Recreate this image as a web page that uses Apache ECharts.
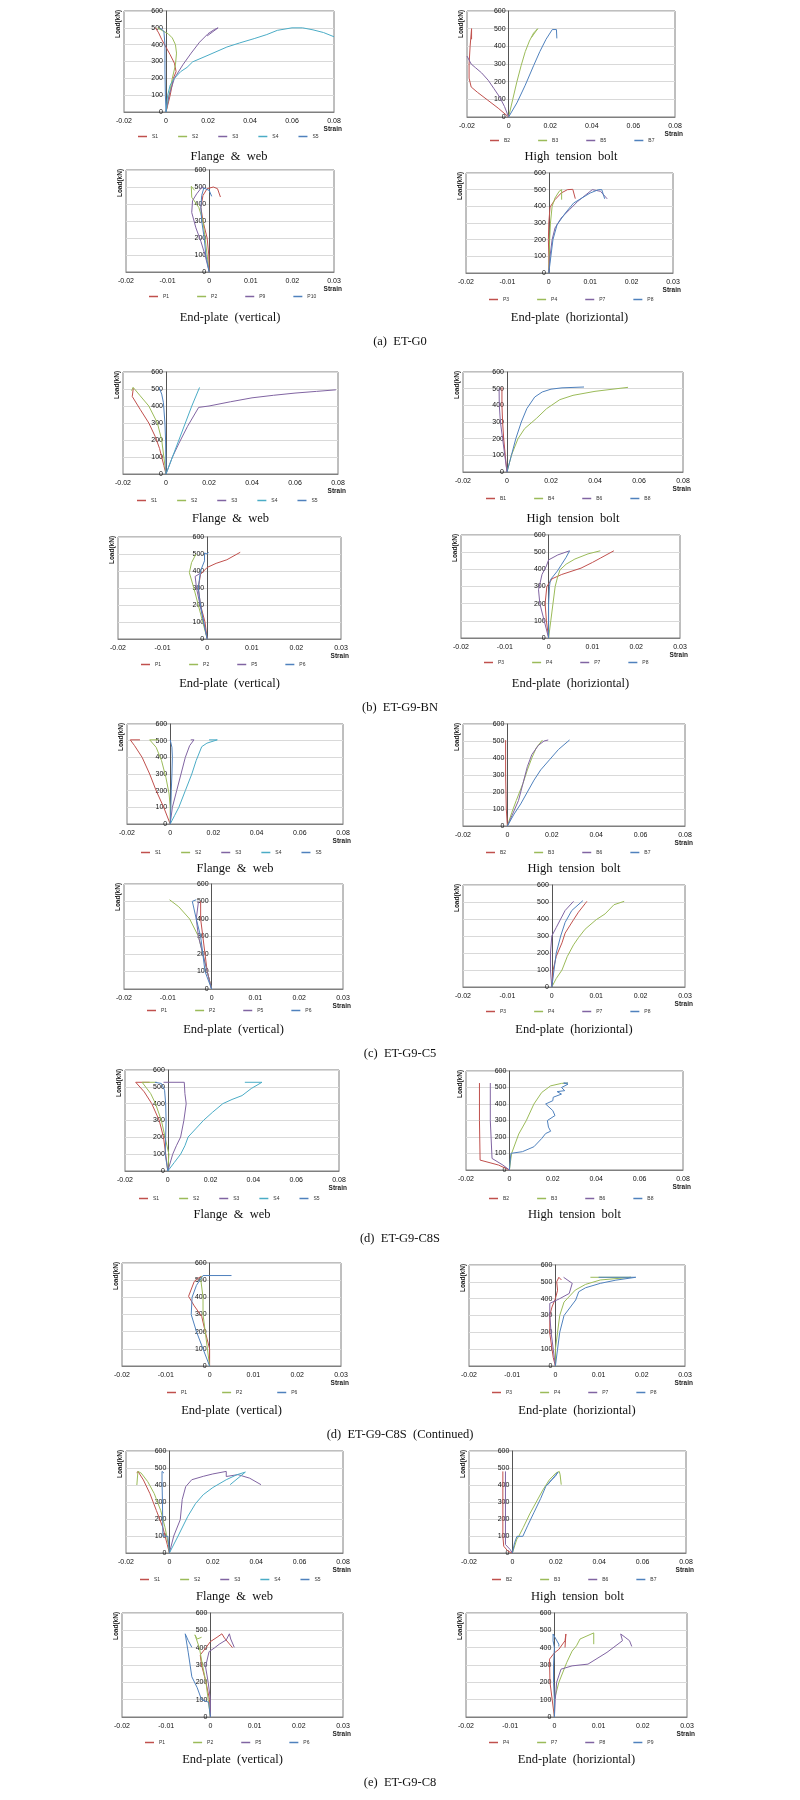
<!DOCTYPE html>
<html>
<head>
<meta charset="utf-8">
<script src="https://cdn.jsdelivr.net/npm/echarts@6/dist/echarts.min.js"></script>
<style>
html, body { margin: 0; padding: 0; background: #fff; }
#main { width: 800px; height: 1800px; }
</style>
</head>
<body>
<div id="main"></div>
<script>
// axis ranges [min, max, interval]
var fwRange = [-0.02, 0.08, 0.02];
var epRange = [-0.02, 0.03, 0.01];
var loadRange = [0, 600, 100];

// ---------- (a) ET-G0 ----------
var aFW_names = ['S1', 'S2', 'S3', 'S4', 'S5'];
var aFW_data = [
    [[0,0],[0.002,100],[0.0035,200],[0.0048,240],[0.004,290],[0.002,340],[0,385],[-0.002,430],[-0.0035,470],[-0.005,500]],
    [[0,0],[0.0015,100],[0.003,200],[0.0045,280],[0.005,350],[0.0045,400],[0.003,440],[0.001,465],[-0.002,485],[-0.004,500]],
    [[0,0],[0.0015,100],[0.004,200],[0.008,280],[0.012,350],[0.016,415],[0.02,465],[0.023,490],[0.0248,500],[0.0196,452]],
    [[0,0],[0.0008,100],[0.002,160],[0.004,200],[0.007,240],[0.01,265],[0.0127,298],[0.02,337],[0.029,386],[0.035,410],[0.042,436],[0.048,460],[0.053,485],[0.06,500],[0.065,500],[0.07,488],[0.075,472],[0.08,447]],
    [[0,0],[-0.0003,100],[-0.0005,250],[-0.0005,400],[-0.001,480],[-0.003,500]]
];
var aBT_names = ['B2', 'B3', 'B5', 'B7'];
var aBT_data = [
    [[0,0],[-0.005,50],[-0.01,95],[-0.015,140],[-0.018,170],[-0.019,220],[-0.019,300],[-0.0185,400],[-0.0178,500],[-0.0178,440]],
    [[0,0],[0.002,100],[0.004,200],[0.006,290],[0.008,370],[0.01,430],[0.012,475],[0.014,500],[0.011,450]],
    [[0,0],[-0.002,60],[-0.0043,113],[-0.007,160],[-0.0098,208],[-0.013,250],[-0.016,280],[-0.018,300],[-0.02,345]],
    [[0,0],[0.004,80],[0.008,180],[0.012,290],[0.015,370],[0.018,440],[0.021,495],[0.023,495],[0.0232,445]]
];
var aEV_names = ['P1', 'P2', 'P9', 'P10'];
var aEV_data = [
    [[0,0],[-0.0001,100],[-0.0005,200],[-0.0015,300],[-0.002,380],[-0.0015,450],[-0.0005,490],[0.001,500],[0.002,490],[0.0027,441]],
    [[0,0],[-0.0005,100],[-0.001,200],[-0.0015,300],[-0.0025,380],[-0.0042,440],[-0.0043,504],[-0.0035,480]],
    [[0,0],[-0.001,100],[-0.002,180],[-0.0032,260],[-0.0042,350],[-0.004,420],[-0.003,460],[-0.0018,498],[-0.001,490]],
    [[0,0],[-0.0008,100],[-0.0012,200],[-0.0018,300],[-0.002,380],[-0.0018,450],[-0.0013,494],[0,480],[0.0006,445]]
];
var aEH_names = ['P3', 'P4', 'P7', 'P8'];
var aEH_data = [
    [[0,0],[0,100],[-0.0001,200],[0,300],[0.0003,396],[0.0015,440],[0.003,480],[0.0045,500],[0.0058,502],[0.0064,446]],
    [[0,0],[0.0001,100],[0.0002,200],[0.0004,300],[0.0008,400],[0.0015,450],[0.0025,490],[0.0031,500],[0.0031,440]],
    [[0,0],[0.0003,100],[0.0008,200],[0.0015,270],[0.003,330],[0.005,380],[0.007,430],[0.009,470],[0.0105,500],[0.0125,490],[0.0141,445]],
    [[0,0],[0.0005,100],[0.001,200],[0.002,290],[0.004,360],[0.006,420],[0.008,450],[0.01,480],[0.012,500],[0.0128,500],[0.0135,445]]
];

// ---------- (b) ET-G9-BN ----------
var bFW_names = ['S1', 'S2', 'S3', 'S4', 'S5'];
var bFW_data = [
    [[0,0],[-0.001,50],[-0.003,150],[-0.005,220],[-0.008,300],[-0.012,380],[-0.0157,456],[-0.0152,505]],
    [[0,0],[-0.001,100],[-0.002,200],[-0.004,300],[-0.008,400],[-0.012,460],[-0.0153,510],[-0.016,490]],
    [[0,0],[0.003,100],[0.006,180],[0.01,280],[0.0152,392],[0.02,400],[0.03,425],[0.04,448],[0.05,463],[0.06,476],[0.07,486],[0.079,495]],
    [[0,0],[0.003,100],[0.006,200],[0.009,300],[0.012,400],[0.0156,509]],
    [[0,0],[-0.0002,200],[-0.0005,300],[-0.0012,420],[-0.002,470],[-0.0032,509]]
];
var bBT_names = ['B1', 'B4', 'B6', 'B8'];
var bBT_data = [
    [[0,0],[-0.0008,100],[-0.0015,200],[-0.002,300],[-0.0023,400],[-0.0023,508]],
    [[0,0],[0.002,100],[0.005,200],[0.008,260],[0.0135,323],[0.018,380],[0.024,434],[0.03,460],[0.04,484],[0.05,500],[0.055,508]],
    [[0,0],[-0.001,100],[-0.002,200],[-0.003,300],[-0.0035,400],[-0.0036,500]],
    [[0,0],[0.002,100],[0.004,200],[0.0065,300],[0.009,380],[0.0126,450],[0.016,480],[0.02,497],[0.025,505],[0.035,510]]
];
var bEV_names = ['P1', 'P2', 'P5', 'P6'];
var bEV_data = [
    [[0,0],[-0.0005,100],[-0.0015,200],[-0.002,300],[-0.0015,380],[0,421],[0.002,445],[0.0044,466],[0.0074,510]],
    [[0,0],[-0.001,100],[-0.002,200],[-0.003,300],[-0.004,390],[-0.0035,450],[-0.0025,500]],
    [[0,0],[-0.0008,100],[-0.0016,200],[-0.0024,300],[-0.0027,368],[-0.0015,387]],
    [[0,0],[-0.0008,100],[-0.0015,200],[-0.002,300],[-0.0015,400],[-0.0006,460],[-0.0006,506],[0,500],[0.0003,510]]
];
var bEH_names = ['P3', 'P4', 'P7', 'P8'];
var bEH_data = [
    [[0,0],[-0.0005,100],[-0.0008,200],[-0.0004,300],[0.0008,345],[0.003,370],[0.0074,407],[0.01,440],[0.0118,465],[0.0149,508]],
    [[0,0],[0.0005,100],[0.001,200],[0.0015,300],[0.002,350],[0.0026,397],[0.004,430],[0.006,460],[0.009,490],[0.0118,508]],
    [[0,0],[-0.001,100],[-0.002,200],[-0.0023,281],[-0.0015,370],[-0.0005,420],[0,455],[0.0021,484],[0.0048,508]],
    [[0,0],[0,200],[0.0002,300],[0.0004,339],[0.002,390],[0.003,430],[0.004,470],[0.0048,508]]
];

// ---------- (c) ET-G9-C5 ----------
var cFW_names = ['S1', 'S2', 'S3', 'S4', 'S5'];
var cFW_data = [
    [[0,0],[-0.003,100],[-0.0065,200],[-0.0095,300],[-0.013,400],[-0.0165,470],[-0.0185,505],[-0.014,505]],
    [[0,0],[0,100],[-0.0005,180],[-0.002,280],[-0.004,380],[-0.0065,460],[-0.0095,505],[-0.0055,505]],
    [[0,0],[0.001,100],[0.003,200],[0.005,300],[0.007,400],[0.009,470],[0.011,505],[0.0095,505]],
    [[0,0],[0.002,50],[0.004,100],[0.007,200],[0.01,300],[0.012,380],[0.0146,464],[0.017,485],[0.0218,505],[0.018,505]],
    [[0,0],[0.0003,100],[0.0005,200],[0.0008,300],[0.001,400],[0.0008,460],[0,505]]
];
var cBT_names = ['B2', 'B3', 'B6', 'B7'];
var cBT_data = [
    [[0,0],[-0.0005,100],[-0.0008,300],[-0.0008,505]],
    [[0,0],[0.002,80],[0.004,150],[0.007,250],[0.009,330],[0.011,400],[0.013,460],[0.0158,506]],
    [[0,0],[0.002,60],[0.005,150],[0.007,250],[0.009,350],[0.011,420],[0.014,475],[0.0165,500],[0.0184,506]],
    [[0,0],[0.003,70],[0.006,130],[0.009,200],[0.012,270],[0.015,330],[0.019,390],[0.023,450],[0.028,506]]
];
var cEV_names = ['P1', 'P2', 'P5', 'P6'];
var cEV_data = [
    [[0,0],[-0.0005,50],[-0.001,100],[-0.0015,200],[-0.002,300],[-0.0025,400],[-0.0025,501]],
    [[0,0],[-0.001,100],[-0.002,200],[-0.003,300],[-0.005,400],[-0.0075,470],[-0.0096,510]],
    [[0,0],[-0.001,100],[-0.002,200],[-0.003,300],[-0.0035,400],[-0.003,500]],
    [[0,0],[-0.0015,100],[-0.002,200],[-0.0025,300],[-0.0035,400],[-0.0044,501],[-0.0035,510]]
];
var cEH_names = ['P3', 'P4', 'P7', 'P8'];
var cEH_data = [
    [[0,0],[0.0003,100],[0.001,180],[0.0023,260],[0.003,317],[0.0049,396],[0.006,440],[0.0075,490],[0.0079,504]],
    [[0,0],[0.001,50],[0.0023,100],[0.0035,180],[0.0049,248],[0.006,290],[0.0075,340],[0.01,396],[0.012,430],[0.014,484],[0.0163,504]],
    [[0,0],[-0.0003,100],[-0.0003,200],[0,300],[0.001,350],[0.002,400],[0.003,450],[0.0049,504]],
    [[0,0],[0.0005,100],[0.001,200],[0.002,300],[0.003,380],[0.0045,450],[0.007,508]]
];

// ---------- (d) ET-G9-C8S ----------
var dFW_names = ['S1', 'S2', 'S3', 'S4', 'S5'];
var dFW_data = [
    [[0,0],[-0.001,100],[-0.002,200],[-0.004,300],[-0.0075,400],[-0.011,470],[-0.015,527],[-0.0085,527]],
    [[0,0],[0.0005,100],[-0.0013,202],[-0.003,300],[-0.0058,402],[-0.008,460],[-0.012,527],[-0.005,527]],
    [[0,0],[0.0023,100],[0.004,150],[0.006,202],[0.0075,300],[0.0086,400],[0.008,460],[0.0077,527],[-0.002,527]],
    [[0,0],[0.003,50],[0.006,100],[0.008,150],[0.0095,202],[0.013,250],[0.0167,301],[0.021,350],[0.0257,400],[0.03,425],[0.0347,448],[0.039,490],[0.044,527],[0.036,527]],
    [[0,0],[-0.0012,100],[-0.001,200],[-0.0008,300],[-0.001,400],[-0.0015,480],[-0.003,520],[-0.006,527]]
];
var dBT_names = ['B2', 'B3', 'B6', 'B8'];
var dBT_data = [
    [[0,0],[-0.005,30],[-0.0135,60],[-0.0138,300],[-0.0138,527]],
    [[0,0],[0.001,100],[0.0043,218],[0.0078,300],[0.0113,400],[0.0149,470],[0.019,510],[0.024,525],[0.027,527]],
    [[0,0],[-0.003,30],[-0.008,70],[-0.0088,300],[-0.0088,527]],
    [[0,0],[0.0007,101],[0.006,111],[0.0113,141],[0.0149,191],[0.0167,221],[0.019,235],[0.018,260],[0.0175,300],[0.021,330],[0.02,360],[0.0167,400],[0.02,420],[0.0202,441],[0.024,460],[0.022,475],[0.0255,481],[0.024,500],[0.027,520],[0.025,527],[0.027,527]]
];
var dcEV_names = ['P1', 'P2', 'P6'];
var dcEV_data = [
    [[0,0],[0,100],[-0.001,200],[-0.0018,289],[-0.0035,350],[-0.0048,406],[-0.0035,493],[-0.002,522]],
    [[0,0],[-0.0005,100],[-0.001,200],[-0.0015,300],[-0.0015,400],[-0.002,500],[-0.0018,525]],
    [[0,0],[-0.0015,100],[-0.003,200],[-0.0042,300],[-0.004,400],[-0.003,470],[-0.0015,527],[0.005,527]]
];
var dcEH_names = ['P3', 'P4', 'P7', 'P8'];
var dcEH_data = [
    [[0,0],[-0.0005,50],[-0.0013,193],[-0.0013,300],[-0.0008,350],[0,400],[0.0005,450],[0.0003,500],[0.0008,527],[0.0014,511]],
    [[0,0],[0,100],[0.0005,200],[0.001,300],[0.002,380],[0.0046,451],[0.007,485],[0.0104,511],[0.0175,527],[0.0081,527]],
    [[0,0],[-0.0005,100],[-0.001,200],[-0.0013,300],[-0.0013,372],[0.001,400],[0.0032,431],[0.0039,491],[0.0019,527]],
    [[0,0],[0.0005,100],[0.001,200],[0.002,300],[0.0047,392],[0.0054,441],[0.007,465],[0.0104,491],[0.014,510],[0.0186,527],[0.01,527]]
];

// ---------- (e) ET-G9-C8 ----------
var eFW_names = ['S1', 'S2', 'S3', 'S4', 'S5'];
var eFW_data = [
    [[0,0],[-0.001,50],[-0.003,150],[-0.006,250],[-0.009,350],[-0.012,430],[-0.0145,480],[-0.015,470]],
    [[0,0],[-0.0005,50],[-0.002,150],[-0.004,250],[-0.007,350],[-0.01,420],[-0.013,470],[-0.0145,480],[-0.015,400]],
    [[0,0],[0.002,100],[0.005,196],[0.0059,314],[0.0075,390],[0.0103,431],[0.0156,451],[0.02,465],[0.0262,480],[0.0262,450],[0.0316,461],[0.037,440],[0.0422,402]],
    [[0,0],[0.004,100],[0.0085,216],[0.012,290],[0.0156,343],[0.02,385],[0.0262,431],[0.031,460],[0.035,476],[0.028,402]],
    [[0,0],[-0.0007,98],[-0.003,100],[-0.0032,300],[-0.0034,420],[-0.0034,480],[-0.0025,470]]
];
var eBT_names = ['B2', 'B3', 'B6', 'B7'];
var eBT_data = [
    [[0,0],[-0.002,10],[-0.004,40],[-0.0044,100],[-0.0044,480]],
    [[0,0],[0.002,80],[0.003,100],[0.005,150],[0.008,230],[0.011,300],[0.014,370],[0.017,430],[0.02,470],[0.0216,480],[0.022,460],[0.0225,402]],
    [[0,0],[-0.001,20],[-0.0032,50],[-0.0032,480]],
    [[0,0],[0.001,60],[0.0021,98],[0.0048,98],[0.007,160],[0.01,240],[0.013,320],[0.0154,392],[0.018,430],[0.0198,451],[0.021,476],[0.0163,402]]
];
var eEV_names = ['P1', 'P2', 'P5', 'P6'];
var eEV_data = [
    [[0,0],[-0.0002,100],[-0.001,200],[-0.002,300],[-0.0023,358],[-0.001,400],[0,435],[0.0015,460],[0.0026,480],[0.0032,455],[0.005,400]],
    [[0,0],[-0.0005,100],[-0.001,200],[-0.0018,300],[-0.0025,400],[-0.0035,474],[-0.003,450],[-0.002,460]],
    [[0,0],[0,100],[-0.0005,200],[-0.0011,290],[-0.0003,377],[0.001,400],[0.002,420],[0.0036,445],[0.0043,480],[0.0046,450],[0.0054,402]],
    [[0,0],[-0.0004,85],[-0.002,100],[-0.003,170],[-0.0042,232],[-0.005,370],[-0.0057,480],[-0.005,440],[-0.0042,402]]
];
var eEH_names = ['P4', 'P7', 'P8', 'P9'];
var eEH_data = [
    [[0,0],[-0.0005,100],[-0.001,200],[-0.0011,334],[0,370],[0.001,390],[0.0024,440],[0.0026,479],[0.0024,401]],
    [[0,0],[0,100],[0.0005,150],[0.001,199],[0.0028,315],[0.004,380],[0.005,411],[0.0058,450],[0.0089,485],[0.0089,420]],
    [[0,0],[0.0002,100],[0.0005,200],[0.0015,276],[0.004,295],[0.0076,305],[0.0119,373],[0.0154,440],[0.015,479],[0.016,460],[0.017,440],[0.0175,407]],
    [[0,0],[0,100],[-0.0002,200],[-0.0002,300],[0,400],[-0.0003,440],[-0.0003,479],[0.001,420],[0.001,407]]
];

var panelTitles = ['Flange  &  web', 'High  tension  bolt', 'End-plate  (vertical)', 'End-plate  (horiziontal)'];
var captions = ['(a)  ET-G0', '(b)  ET-G9-BN', '(c)  ET-G9-C5', '(d)  ET-G9-C8S', '(d)  ET-G9-C8S  (Continued)', '(e)  ET-G9-C8'];

// layout of each small plot (pixels on the page)
var panels = [
    {id:'aFW',  L:124, T:11,   R:334, B:112,  range:fwRange, legY:137,  titY:157,  t:0, names:aFW_names,  data:aFW_data},
    {id:'aBT',  L:467, T:11,   R:675, B:117,  range:fwRange, legY:141,  titY:157,  t:1, names:aBT_names,  data:aBT_data},
    {id:'aEV',  L:126, T:170,  R:334, B:272,  range:epRange, legY:297,  titY:318,  t:2, names:aEV_names,  data:aEV_data},
    {id:'aEH',  L:466, T:173,  R:673, B:273,  range:epRange, legY:300,  titY:318,  t:3, names:aEH_names,  data:aEH_data},
    {id:'bFW',  L:123, T:372,  R:338, B:474,  range:fwRange, legY:501,  titY:519,  t:0, names:bFW_names,  data:bFW_data},
    {id:'bBT',  L:463, T:372,  R:683, B:472,  range:fwRange, legY:499,  titY:519,  t:1, names:bBT_names,  data:bBT_data},
    {id:'bEV',  L:118, T:537,  R:341, B:639,  range:epRange, legY:665,  titY:684,  t:2, names:bEV_names,  data:bEV_data},
    {id:'bEH',  L:461, T:535,  R:680, B:638,  range:epRange, legY:663,  titY:684,  t:3, names:bEH_names,  data:bEH_data},
    {id:'cFW',  L:127, T:724,  R:343, B:824,  range:fwRange, legY:853,  titY:869,  t:0, names:cFW_names,  data:cFW_data},
    {id:'cBT',  L:463, T:724,  R:685, B:826,  range:fwRange, legY:853,  titY:869,  t:1, names:cBT_names,  data:cBT_data},
    {id:'cEV',  L:124, T:884,  R:343, B:989,  range:epRange, legY:1011, titY:1030, t:2, names:cEV_names,  data:cEV_data},
    {id:'cEH',  L:463, T:885,  R:685, B:987,  range:epRange, legY:1012, titY:1030, t:3, names:cEH_names,  data:cEH_data},
    {id:'dFW',  L:125, T:1070, R:339, B:1171, range:fwRange, legY:1199, titY:1215, t:0, names:dFW_names,  data:dFW_data},
    {id:'dBT',  L:466, T:1071, R:683, B:1170, range:fwRange, legY:1199, titY:1215, t:1, names:dBT_names,  data:dBT_data},
    {id:'dcEV', L:122, T:1263, R:341, B:1366, range:epRange, legY:1393, titY:1411, t:2, names:dcEV_names, data:dcEV_data},
    {id:'dcEH', L:469, T:1265, R:685, B:1366, range:epRange, legY:1393, titY:1411, t:3, names:dcEH_names, data:dcEH_data},
    {id:'eFW',  L:126, T:1451, R:343, B:1553, range:fwRange, legY:1580, titY:1597, t:0, names:eFW_names,  data:eFW_data},
    {id:'eBT',  L:469, T:1451, R:686, B:1553, range:fwRange, legY:1580, titY:1597, t:1, names:eBT_names,  data:eBT_data},
    {id:'eEV',  L:122, T:1613, R:343, B:1717, range:epRange, legY:1743, titY:1760, t:2, names:eEV_names,  data:eEV_data},
    {id:'eEH',  L:466, T:1613, R:687, B:1717, range:epRange, legY:1743, titY:1760, t:3, names:eEH_names,  data:eEH_data}
];
var captionY = [342, 708, 1054, 1239, 1435, 1783];

// excel-like colours, picked by number of series in a plot
var palette = {
    5: ['#C0504D', '#9BBB59', '#8064A2', '#4BACC6', '#4F81BD'],
    4: ['#C0504D', '#9BBB59', '#8064A2', '#4F81BD'],
    3: ['#C0504D', '#9BBB59', '#4F81BD']
};
var legendStart = {5: 14, 4: 23, 3: 45};
var legendGap = {5: 20, 4: 28, 3: 35};

var grids = [], xAxes = [], yAxes = [], series = [], legends = [], texts = [];

panels.forEach(function (p, i) {
    var w = p.R - p.L;
    // the vertical axis crosses at strain = 0, like in excel
    var zeroShift = (0 - p.range[0]) / (p.range[1] - p.range[0]) * w;

    grids.push({
        left: p.L, top: p.T, width: w, height: p.B - p.T,
        show: true, borderColor: '#7f7f7f', borderWidth: 1
    });
    xAxes.push({
        gridIndex: i, type: 'value',
        min: p.range[0], max: p.range[1], interval: p.range[2],
        axisLine: {onZero: false, lineStyle: {color: '#7f7f7f', width: 1}},
        axisTick: {show: false},
        splitLine: {show: false},
        axisLabel: {
            fontSize: 7, color: '#111', margin: 6, fontFamily: 'Arial',
            showMinLabel: true, showMaxLabel: true,
            formatter: function (v) { return String(Math.round(v * 100) / 100); }
        }
    });
    yAxes.push({
        gridIndex: i, type: 'value', position: 'left',
        offset: -zeroShift,
        min: loadRange[0], max: loadRange[1], interval: loadRange[2],
        axisLine: {show: true, onZero: false, lineStyle: {color: '#555', width: 1}},
        axisTick: {show: false},
        splitLine: {show: true, lineStyle: {color: '#d9d9d9', width: 1}},
        axisLabel: {fontSize: 7, color: '#111', margin: 3, fontFamily: 'Arial'}
    });

    var n = p.names.length;
    var cols = palette[n];
    var legendData = [];
    p.names.forEach(function (name, k) {
        var key = p.id + '|' + name;
        legendData.push(key);
        series.push({
            type: 'line', name: key,
            xAxisIndex: i, yAxisIndex: i,
            data: p.data[k],
            showSymbol: false, symbol: 'none',
            lineStyle: {width: 1, color: cols[k]},
            itemStyle: {color: cols[k]},
            z: 3
        });
    });
    legends.push({
        left: p.L + legendStart[n], top: p.legY - 3, padding: 0,
        icon: 'rect', itemWidth: 9, itemHeight: 1.5, itemGap: legendGap[n],
        selectedMode: false,
        data: legendData,
        formatter: function (name) { return name.split('|')[1]; },
        textStyle: {fontSize: 5, color: '#333', width: 8, fontFamily: 'Arial'}
    });

    // panel title, y-axis name, x-axis name
    texts.push({
        type: 'text', x: (p.L + p.R) / 2, y: p.titY,
        style: {text: panelTitles[p.t], font: '12.5px "Liberation Serif", "Times New Roman", serif',
                fill: '#111', align: 'center', verticalAlign: 'middle'}
    });
    texts.push({
        type: 'text', x: p.L - 6, y: p.T + 13, rotation: Math.PI / 2,
        style: {text: 'Load(kN)', font: 'bold 6.5px Arial', fill: '#222',
                align: 'center', verticalAlign: 'middle'}
    });
    texts.push({
        type: 'text', x: p.R + 8, y: p.B + 17,
        style: {text: 'Strain', font: 'bold 6.5px Arial', fill: '#222',
                align: 'right', verticalAlign: 'middle'}
    });
});

captions.forEach(function (c, i) {
    texts.push({
        type: 'text', x: 400, y: captionY[i],
        style: {text: c, font: '12.5px "Liberation Serif", "Times New Roman", serif',
                fill: '#111', align: 'center', verticalAlign: 'middle'}
    });
});

var myChart = echarts.init(document.getElementById('main'));
myChart.setOption({
    animation: false,
    backgroundColor: '#fff',
    grid: grids,
    xAxis: xAxes,
    yAxis: yAxes,
    legend: legends,
    series: series,
    graphic: texts
});
</script>
</body>
</html>
